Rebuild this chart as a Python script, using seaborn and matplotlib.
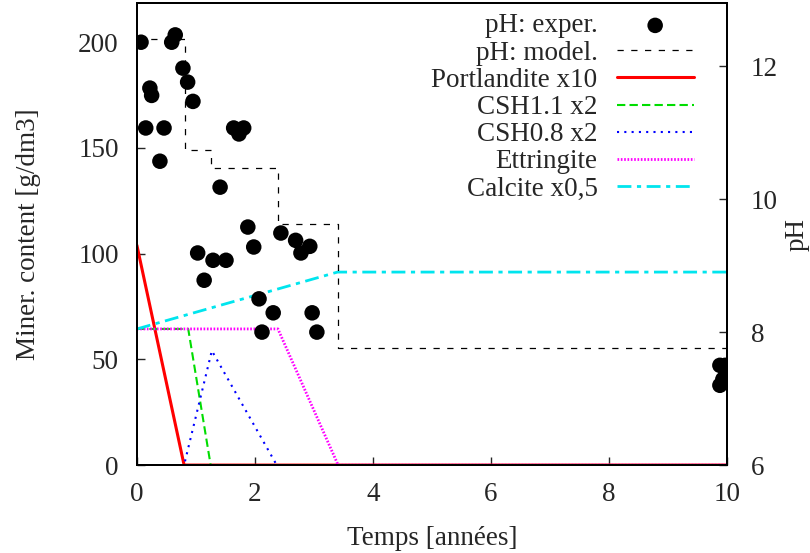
import numpy as np
import pandas as pd
import matplotlib
matplotlib.use("Agg")
import matplotlib.pyplot as plt
import seaborn as sns

sns.set_theme(style="ticks")
plt.rcParams['font.family'] = ['Liberation Serif', 'DejaVu Serif']

# experimental pH (right axis)
t_exp = [0.07, 0.15, 0.22, 0.25, 0.39, 0.46, 0.59, 0.65, 0.78, 0.86, 0.95,
         1.03, 1.14, 1.29, 1.41, 1.51, 1.64, 1.73, 1.81, 1.88, 1.98, 2.07,
         2.12, 2.31, 2.44, 2.69, 2.78, 2.93, 2.97, 3.05,
         9.88, 9.97, 9.93, 9.88]
ph_exp = [12.36, 11.07, 11.67, 11.56, 10.57, 11.07, 12.36, 12.47, 11.97, 11.76, 11.47,
          9.19, 8.78, 9.08, 10.18, 9.08, 11.07, 10.98, 11.07, 9.58, 9.28, 8.50,
          8.00, 8.29, 9.49, 9.38, 9.19, 9.29, 8.29, 8.00,
          7.50, 7.50, 7.29, 7.20]

# modelled pH (step)
t_mod = [0.0, 0.82, 0.82, 1.25, 1.25, 2.39, 2.39, 3.41, 3.41, 10.0]
ph_mod = [12.41, 12.41, 10.74, 10.74, 10.47, 10.47, 9.62, 9.62, 7.76, 7.76]

# mineral contents (left axis)
t_port = [0.0, 0.80, 10.0]
portlandite = [104.0, 0.0, 0.0]
t_csh11 = [0.0, 0.87, 1.25, 10.0]
csh11 = [64.4, 64.4, 0.0, 0.0]
t_csh08 = [0.0, 0.80, 1.27, 2.37, 10.0]
csh08 = [0.0, 0.0, 54.1, 0.0, 0.0]
t_ettr = [0.0, 2.39, 3.41, 10.0]
ettringite = [64.4, 64.4, 0.0, 0.0]
t_calc = [0.0, 3.40, 10.0]
calcite = [64.4, 91.3, 91.3]

fs = 19.5

fig = plt.figure(figsize=(8.1, 5.53), dpi=100)
ax = fig.add_axes([0.169, 0.159, 0.7285, 0.8356])
ax2 = ax.twinx()

sns.lineplot(x=t_port, y=portlandite, ax=ax, color='#ff0000', lw=2.2,
             label='Portlandite x10', estimator=None, sort=False)
sns.lineplot(x=t_csh11, y=csh11, ax=ax, color='#00dd00', lw=1.5,
             label='CSH1.1 x2', estimator=None, sort=False, linestyle=(0, (4, 2)))
sns.lineplot(x=t_csh08, y=csh08, ax=ax, color='#0000ff', lw=1.5,
             label='CSH0.8 x2', estimator=None, sort=False, linestyle=(0, (1, 2.5)))
sns.lineplot(x=t_ettr, y=ettringite, ax=ax, color='#ff00ff', lw=2.0,
             label='Ettringite', estimator=None, sort=False, linestyle=(0, (0.6, 0.6)))
sns.lineplot(x=t_calc, y=calcite, ax=ax, color='#00e5ee', lw=2.0,
             label='Calcite x0,5', estimator=None, sort=False,
             linestyle=(0, (5, 2, 1.5, 2)))

sns.lineplot(x=t_mod, y=ph_mod, ax=ax2, color='black', lw=0.9,
             label='pH: model.', estimator=None, sort=False, linestyle=(0, (5, 6)))
sns.scatterplot(x=t_exp, y=ph_exp, ax=ax2, color='black', s=125,
                edgecolor='none', label='pH: exper.', zorder=5)

ax.set_xlim(0, 10)
ax.set_ylim(0, 218.6)
ax2.set_ylim(6, 12.95)
ax.set_xticks([0, 2, 4, 6, 8, 10])
ax.set_yticks([0, 50, 100, 150, 200])
ax2.set_yticks([6, 8, 10, 12])

ax.set_xlabel('Temps [années]', fontsize=fs, labelpad=14)
ax.set_ylabel('Miner. content [g/dm3]', fontsize=fs, labelpad=27)
ax2.set_ylabel('pH', fontsize=fs, labelpad=5)
ax.tick_params(axis='x', direction='in', length=6, width=1, labelsize=fs, pad=12)
ax.tick_params(axis='y', direction='in', length=6, width=1, labelsize=fs, pad=13)
ax2.tick_params(axis='y', direction='in', length=6, width=1, labelsize=fs, pad=17)
for a in (ax, ax2):
    for s in a.spines.values():
        s.set_visible(True)
        s.set_linewidth(1.4)
        s.set_color('black')

h1, l1 = ax.get_legend_handles_labels()
h2, l2 = ax2.get_legend_handles_labels()
ax.get_legend().remove()
ax2.get_legend().remove()
order_h = [h2[1], h2[0]] + h1
order_l = [l2[1], l2[0]] + l1
leg = ax2.legend(order_h, order_l, markerfirst=False, frameon=False,
                 loc='upper right', bbox_to_anchor=(0.985, 1.03), fontsize=fs,
                 labelspacing=0.08, handlelength=2.85, handletextpad=0.7,
                 markerscale=1.0)

fig.savefig('out.png', dpi=100)
